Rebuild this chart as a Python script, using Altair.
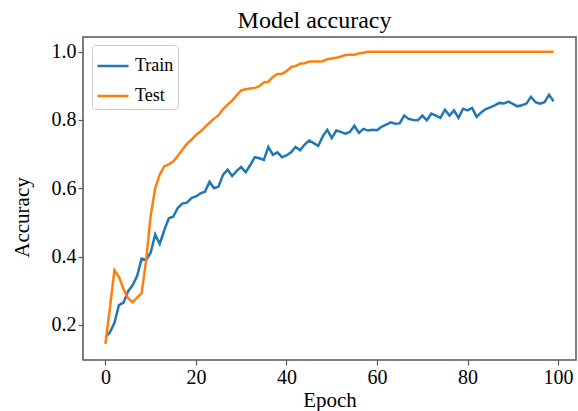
import altair as alt
import pandas as pd

epochs = list(range(100))
train = [0.164, 0.178, 0.206, 0.258, 0.265, 0.298, 0.316, 0.343, 0.394, 0.390,
         0.412, 0.465, 0.437, 0.477, 0.512, 0.517, 0.543, 0.555, 0.558, 0.571,
         0.576, 0.585, 0.590, 0.619, 0.600, 0.605, 0.640, 0.654, 0.636, 0.651,
         0.662, 0.647, 0.668, 0.691, 0.688, 0.683, 0.721, 0.698, 0.705, 0.691,
         0.696, 0.705, 0.721, 0.711, 0.728, 0.740, 0.732, 0.724, 0.752, 0.771,
         0.747, 0.769, 0.765, 0.760, 0.765, 0.783, 0.762, 0.774, 0.769, 0.771,
         0.770, 0.780, 0.786, 0.793, 0.789, 0.790, 0.813, 0.803, 0.800, 0.799,
         0.813, 0.799, 0.819, 0.813, 0.806, 0.830, 0.813, 0.828, 0.806, 0.833,
         0.828, 0.835, 0.809, 0.822, 0.832, 0.837, 0.843, 0.850, 0.848, 0.854,
         0.847, 0.840, 0.843, 0.848, 0.868, 0.852, 0.848, 0.852, 0.874, 0.855]
test = [0.144, 0.250, 0.360, 0.340, 0.305, 0.278, 0.266, 0.280, 0.293, 0.390,
        0.520, 0.600, 0.640, 0.664, 0.670, 0.678, 0.695, 0.713, 0.730, 0.742,
        0.756, 0.766, 0.779, 0.792, 0.804, 0.814, 0.832, 0.845, 0.857, 0.872,
        0.887, 0.890, 0.892, 0.894, 0.899, 0.910, 0.912, 0.926, 0.935, 0.935,
        0.943, 0.955, 0.958, 0.965, 0.966, 0.971, 0.971, 0.971, 0.972, 0.978,
        0.980, 0.982, 0.986, 0.990, 0.991, 0.991, 0.995, 0.997, 1.000, 1.000,
        1.0, 1.0, 1.0, 1.0, 1.0, 1.0, 1.0, 1.0, 1.0, 1.0,
        1.0, 1.0, 1.0, 1.0, 1.0, 1.0, 1.0, 1.0, 1.0, 1.0,
        1.0, 1.0, 1.0, 1.0, 1.0, 1.0, 1.0, 1.0, 1.0, 1.0,
        1.0, 1.0, 1.0, 1.0, 1.0, 1.0, 1.0, 1.0, 1.0, 1.0]
series_names = ["Train", "Test"]
series_colors = ["#1f77b4", "#ff7f0e"]
x_ticks = [0, 20, 40, 60, 80, 100]
y_ticks = [0.2, 0.4, 0.6, 0.8, 1.0]

df = pd.concat([
    pd.DataFrame({"Epoch": epochs, "Accuracy": train, "Series": "Train"}),
    pd.DataFrame({"Epoch": epochs, "Accuracy": test, "Series": "Test"}),
])

FONT = "Liberation Serif"
AX = "#555555"

chart = alt.Chart(df).mark_line(strokeWidth=2.5).encode(
    x=alt.X("Epoch:Q",
            scale=alt.Scale(domain=[-4.95, 103.95], nice=False, zero=False),
            axis=alt.Axis(values=x_ticks, format="d", title="Epoch",
                          titlePadding=2)),
    y=alt.Y("Accuracy:Q",
            scale=alt.Scale(domain=[0.097, 1.043], nice=False, zero=False),
            axis=alt.Axis(values=y_ticks, format=".1f", title="Accuracy",
                          titlePadding=19, titleY=180)),
    color=alt.Color("Series:N",
                    scale=alt.Scale(domain=series_names, range=series_colors),
                    legend=alt.Legend(title=None, orient="none",
                                      legendX=9, legendY=8,
                                      symbolType="stroke", symbolSize=961,
                                      symbolStrokeWidth=2.5,
                                      labelFont=FONT, labelFontSize=18,
                                      labelColor="black",
                                      labelOffset=5, rowPadding=4,
                                      padding=4, cornerRadius=3,
                                      strokeColor="#cccccc", fillColor="white")),
    order="Epoch:Q",
).properties(
    width=493, height=323,
    title=alt.TitleParams("Model accuracy", font=FONT, fontSize=24,
                          fontWeight="normal", color="black", offset=4, dx=-15),
    autosize=alt.AutoSizeParams(type="none"),
    padding={"left": 83, "top": 37, "right": 2, "bottom": 51},
).configure_view(
    stroke=AX, strokeWidth=1.5
).configure_axis(
    grid=False, domain=False, ticks=True, tickSize=5, tickColor=AX,
    tickWidth=1.2, labelFont=FONT, labelFontSize=20, labelColor="black",
    labelPadding=2, titleFont=FONT, titleFontSize=21, titleFontWeight="normal",
    titleColor="black"
)

chart.save("out.html", embed_options={"renderer": "svg", "actions": False})
